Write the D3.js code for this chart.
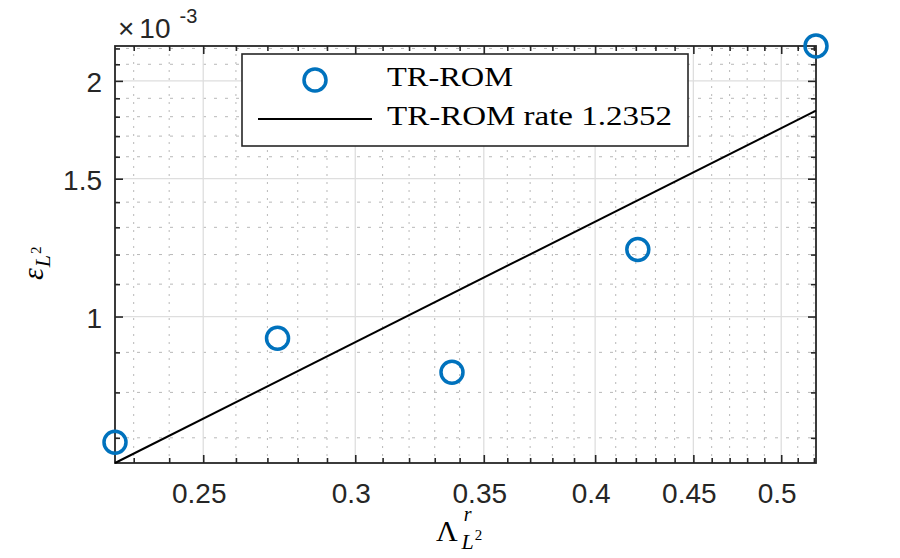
<!DOCTYPE html>
<html>
<head>
<meta charset="utf-8">
<script src="https://cdn.jsdelivr.net/npm/d3@7"></script>
<style>
  body { margin: 0; background: #fff; }
  svg { display: block; }
  .tick-label { font-family: "Liberation Sans", Arial, sans-serif; font-size: 28px; fill: #262626; }
  .tex { font-family: "Liberation Serif", "Times New Roman", serif; fill: #000; }
</style>
</head>
<body>
<div id="chart"></div>
<script>
// TR-ROM error vs. Lambda (log-log)
const lambdaVals = [0.2249, 0.2733, 0.3369, 0.4210, 0.5213]
const errVals = [0.691e-3, 0.938e-3, 0.849e-3, 1.218e-3, 2.216e-3]

// fitted rate line end points
const fitLambda = [0.2249, 0.5213]
const fitErr = [0.650e-3, 1.832e-3]

const xMajorTicks = [0.25, 0.3, 0.35, 0.4, 0.45, 0.5]
const xTickLabels = ["0.25", "0.3", "0.35", "0.4", "0.45", "0.5"]
const xMinorTicks = [0.23, 0.24, 0.26, 0.27, 0.28, 0.29, 0.31, 0.32, 0.33, 0.34,
  0.36, 0.37, 0.38, 0.39, 0.41, 0.42, 0.43, 0.44, 0.46, 0.47, 0.48, 0.49, 0.51, 0.52]

const yMajorTicks = [1e-3, 1.5e-3, 2e-3]
const yTickLabels = ["1", "1.5", "2"]
const yMinorTicks = [0.7e-3, 0.8e-3, 0.9e-3, 1.1e-3, 1.2e-3, 1.3e-3, 1.4e-3,
  1.6e-3, 1.7e-3, 1.8e-3, 1.9e-3, 2.1e-3, 2.2e-3]

const legendLabels = ["TR-ROM", "TR-ROM rate 1.2352"]
const legendWidths = [126, 285]

const W = 900, H = 558
const MARGIN = { LEFT: 115, RIGHT: 84, TOP: 46, BOTTOM: 95 }
const WIDTH = W - MARGIN.LEFT - MARGIN.RIGHT
const HEIGHT = H - MARGIN.TOP - MARGIN.BOTTOM
const AX = "#262626"
const BLUE = "#0072BD"

const svg = d3.select("#chart").append("svg")
  .attr("width", W)
  .attr("height", H)

const g = svg.append("g")
  .attr("transform", `translate(${MARGIN.LEFT}, ${MARGIN.TOP})`)

const x = d3.scaleLog()
  .domain(d3.extent(lambdaVals.concat(fitLambda)))
  .range([0, WIDTH])
const y = d3.scaleLog()
  .domain(d3.extent(errVals.concat(fitErr)))
  .range([HEIGHT, 0])

// minor grid (dotted)
g.append("g").selectAll("line")
  .data(xMinorTicks.filter(d => x(d) > 0 && x(d) < WIDTH))
  .enter().append("line")
    .attr("x1", d => x(d)).attr("x2", d => x(d))
    .attr("y1", 0).attr("y2", HEIGHT)
    .attr("stroke", "#b8b8b8")
    .attr("stroke-width", 1)
    .attr("stroke-dasharray", "2,6")
g.append("g").selectAll("line")
  .data(yMinorTicks.filter(d => y(d) > 0 && y(d) < HEIGHT))
  .enter().append("line")
    .attr("x1", 0).attr("x2", WIDTH)
    .attr("y1", d => y(d)).attr("y2", d => y(d))
    .attr("stroke", "#b8b8b8")
    .attr("stroke-width", 1)
    .attr("stroke-dasharray", "3,8")

// major grid
g.append("g").selectAll("line")
  .data(xMajorTicks)
  .enter().append("line")
    .attr("x1", d => x(d)).attr("x2", d => x(d))
    .attr("y1", 0).attr("y2", HEIGHT)
    .attr("stroke", "#dedede")
    .attr("stroke-width", 1.3)
g.append("g").selectAll("line")
  .data(yMajorTicks)
  .enter().append("line")
    .attr("x1", 0).attr("x2", WIDTH)
    .attr("y1", d => y(d)).attr("y2", d => y(d))
    .attr("stroke", "#dedede")
    .attr("stroke-width", 1.3)

// axes with inward ticks (bottom / top / left / right)
function tickAxis(axisFn, scale, vals, len, transform) {
  const a = g.append("g")
    .attr("transform", transform)
    .call(axisFn(scale).tickValues(vals).tickSizeInner(-len).tickSizeOuter(0).tickFormat(""))
  a.select(".domain").remove()
  a.selectAll("line").attr("stroke", AX).attr("stroke-width", 1.6)
  return a
}
tickAxis(d3.axisBottom, x, xMajorTicks, 8, `translate(0, ${HEIGHT})`)
tickAxis(d3.axisBottom, x, xMinorTicks.filter(d => x(d) < WIDTH), 5, `translate(0, ${HEIGHT})`)
tickAxis(d3.axisTop, x, xMajorTicks, 8, "translate(0, 0)")
tickAxis(d3.axisTop, x, xMinorTicks.filter(d => x(d) < WIDTH), 5, "translate(0, 0)")
tickAxis(d3.axisLeft, y, yMajorTicks, 8, "translate(0, 0)")
tickAxis(d3.axisLeft, y, yMinorTicks.filter(d => y(d) > 0), 5, "translate(0, 0)")
tickAxis(d3.axisRight, y, yMajorTicks, 8, `translate(${WIDTH}, 0)`)
tickAxis(d3.axisRight, y, yMinorTicks.filter(d => y(d) > 0), 5, `translate(${WIDTH}, 0)`)

g.append("rect")
  .attr("width", WIDTH)
  .attr("height", HEIGHT)
  .attr("fill", "none")
  .attr("stroke", AX)
  .attr("stroke-width", 1.8)

// tick labels
g.append("g").selectAll("text")
  .data(xMajorTicks)
  .enter().append("text")
    .attr("class", "tick-label")
    .attr("x", d => x(d) - 4)
    .attr("y", HEIGHT + 40)
    .attr("text-anchor", "middle")
    .text((d, i) => xTickLabels[i])
g.append("g").selectAll("text")
  .data(yMajorTicks)
  .enter().append("text")
    .attr("class", "tick-label")
    .attr("x", -13)
    .attr("y", d => y(d) + 11)
    .attr("text-anchor", "end")
    .text((d, i) => yTickLabels[i])

// exponent
const expo = g.append("text")
  .attr("class", "tick-label")
  .attr("x", 3)
  .attr("y", -8)
expo.append("tspan").text("\u00d7")
expo.append("tspan").attr("dx", 5).text("10")
expo.append("tspan").attr("dx", 9).attr("dy", -15).style("font-size", "20px").text("-3")

// fit line
const line = d3.line()
  .x(d => x(d[0]))
  .y(d => y(d[1]))
g.append("path")
  .datum(fitLambda.map((d, i) => [d, fitErr[i]]))
  .attr("d", line)
  .attr("fill", "none")
  .attr("stroke", "#000")
  .attr("stroke-width", 2)

// markers
g.append("g").selectAll("circle")
  .data(lambdaVals.map((d, i) => [d, errVals[i]]))
  .enter().append("circle")
    .attr("cx", d => x(d[0]))
    .attr("cy", d => y(d[1]))
    .attr("r", 11)
    .attr("fill", "none")
    .attr("stroke", BLUE)
    .attr("stroke-width", 3.5)

// legend
const legend = svg.append("g").attr("transform", "translate(242, 54)")
legend.append("rect")
  .attr("width", 446)
  .attr("height", 92)
  .attr("fill", "#fff")
  .attr("stroke", AX)
  .attr("stroke-width", 1.6)
legend.append("circle")
  .attr("cx", 73).attr("cy", 26).attr("r", 11)
  .attr("fill", "none").attr("stroke", BLUE).attr("stroke-width", 3.5)
legend.append("line")
  .attr("x1", 16).attr("x2", 130).attr("y1", 65).attr("y2", 65)
  .attr("stroke", "#000").attr("stroke-width", 2)
legend.selectAll(".legendText")
  .data(legendLabels)
  .enter().append("text")
    .attr("class", "tex legendText")
    .attr("x", 145)
    .attr("y", (d, i) => 32 + i * 39)
    .attr("textLength", (d, i) => legendWidths[i])
    .attr("lengthAdjust", "spacingAndGlyphs")
    .style("font-size", "28px")
    .text(d => d)

// x label: Lambda^r_{L^2}
const xl = svg.append("text")
  .attr("class", "tex")
  .attr("x", 436)
  .attr("y", 541)
  .style("font-size", "30px")
xl.append("tspan").text("\u039b")
xl.append("tspan").attr("dx", 6).attr("dy", -20).style("font-size", "20px").style("font-style", "italic").text("r")
xl.append("tspan").attr("dx", -10).attr("dy", 28).style("font-size", "22px").style("font-style", "italic").text("L")
xl.append("tspan").attr("dx", 1).attr("dy", -9).style("font-size", "15px").text("2")

// y label: eps_{L^2}
const yl = svg.append("text")
  .attr("class", "tex")
  .attr("transform", "translate(43, 280) rotate(-90)")
  .style("font-size", "30px")
yl.append("tspan").style("font-style", "italic").text("\u03b5")
yl.append("tspan").attr("dx", 1).attr("dy", 7).style("font-size", "22px").style("font-style", "italic").text("L")
yl.append("tspan").attr("dx", 1).attr("dy", -9).style("font-size", "15px").text("2")
</script>
</body>
</html>
